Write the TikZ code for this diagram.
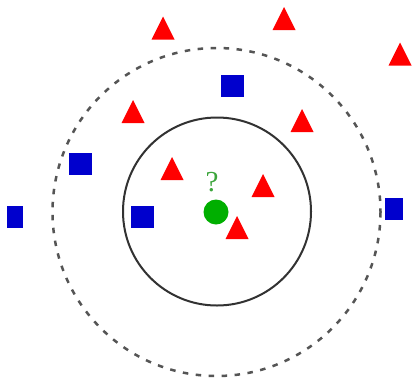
\documentclass[tikz,border=0pt]{standalone}
\usepackage{fontspec}
\setmainfont{Liberation Serif}
\definecolor{sqblue}{RGB}{0,0,205}
\definecolor{trired}{RGB}{255,0,0}
\definecolor{ptgreen}{RGB}{0,175,0}
\definecolor{qgreen}{RGB}{60,165,60}
\definecolor{solidgray}{RGB}{50,50,50}
\definecolor{dashgray}{RGB}{85,85,85}
\tikzset{
  sq/.style={rectangle, fill=sqblue, inner sep=0pt, minimum width=23pt, minimum height=22pt},
  tri/.pic={\fill[trired] (0,0) -- (11.5,23) -- (-11.5,23) -- cycle;}
}
\begin{document}
\begin{tikzpicture}[x=1pt,y=-1pt]
\useasboundingbox[fill=white] (0,0) rectangle (414,378);
% circles
\draw[dashgray, line width=2.5pt, dash pattern=on 5.5pt off 7.5pt] (216.5,212) circle[radius=164];
\draw[solidgray, line width=2pt] (217,211.5) circle[radius=94];
% query point
\node[circle, fill=ptgreen, inner sep=0pt, minimum size=25pt] (q) at (216,212) {};
\node[text=qgreen, font=\fontsize{29}{29}\selectfont, inner sep=0pt, anchor=base] (qm) at (212,191) {?};
% squares
\node[sq] (s1) at (232,86) {};
\node[sq] (s2) at (80,164) {};
\node[sq, minimum width=16pt] (s3) at (14.5,217) {};
\node[sq] (s4) at (142,217) {};
\node[sq, minimum width=18pt] (s5) at (394,209) {};
% triangles (apex positions)
\pic at (163,16.5) {tri};
\pic at (284,7) {tri};
\pic at (400,42.5) {tri};
\pic at (133,100) {tri};
\pic at (302,109) {tri};
\pic at (172,157) {tri};
\pic at (263,174) {tri};
\pic at (237,216) {tri};
\end{tikzpicture}
\end{document}
